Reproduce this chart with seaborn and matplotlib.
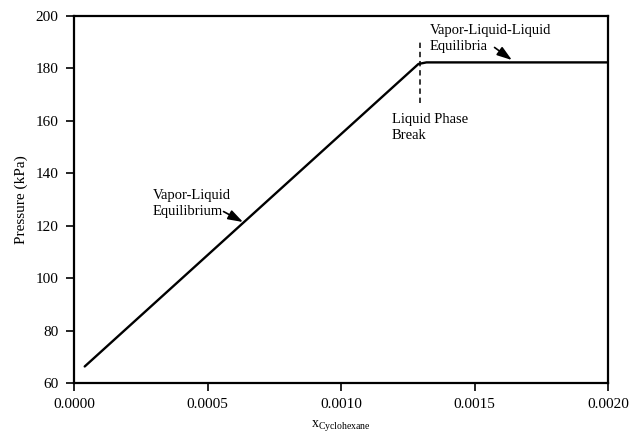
import matplotlib
matplotlib.use("Agg")
import matplotlib.pyplot as plt
import seaborn as sns
import pandas as pd

# Pressure vs. cyclohexane mole fraction
x_cyclohexane = [0.00004, 0.00129, 0.00132, 0.0020]
pressure_kpa = [66.3, 181.7, 182.3, 182.3]

# Liquid phase break marker
break_x = 0.001296
break_y = [166.8, 190.1]

x_ticks = [0.0000, 0.0005, 0.0010, 0.0015, 0.0020]
x_tick_labels = ["0.0000", "0.0005", "0.0010", "0.0015", "0.0020"]
y_ticks = [60, 80, 100, 120, 140, 160, 180, 200]

sns.set_theme(style="ticks")
plt.rcParams["font.family"] = ["Liberation Serif", "DejaVu Serif"]
plt.rcParams["mathtext.fontset"] = "custom"
plt.rcParams["mathtext.rm"] = "Liberation Serif"
plt.rcParams["text.color"] = "black"
plt.rcParams["axes.labelcolor"] = "black"

df = pd.DataFrame({"x": x_cyclohexane, "p": pressure_kpa})

fig = plt.figure(figsize=(6.3, 4.37), dpi=100)
ax = fig.add_axes([0.1175, 0.1236, 0.8476, 0.8398])

sns.lineplot(data=df, x="x", y="p", ax=ax, color="black", linewidth=1.7)
ax.plot([break_x, break_x], break_y, color="black", linewidth=1.1,
        linestyle=(0, (3.5, 2.5)))

ax.set_xlim(0, 0.002)
ax.set_ylim(60, 200)
ax.set_xticks(x_ticks)
ax.set_xticklabels(x_tick_labels)
ax.set_yticks(y_ticks)
ax.tick_params(direction="out", length=6, width=1.2, color="black",
               labelsize=11, labelcolor="black", pad=5)
for side in ["left", "right", "top", "bottom"]:
    ax.spines[side].set_visible(True)
    ax.spines[side].set_color("black")
    ax.spines[side].set_linewidth(1.6)

ax.set_xlabel(r"$\mathregular{x_{Cyclohexane}}$", fontsize=10)
ax.xaxis.set_label_coords(0.5, -0.095)
ax.set_ylabel("Pressure (kPa)", fontsize=11, labelpad=6)

arrow_style = dict(arrowstyle="-|>,head_length=0.75,head_width=0.25",
                   color="black", lw=1.2, shrinkA=0, shrinkB=0)

# Annotation texts
ax.text(0.000295, 128.5, "Vapor-Liquid\nEquilibrium", fontsize=10.5,
        ha="left", va="center", linespacing=1.25)
ax.text(0.001333, 191.4, "Vapor-Liquid-Liquid\nEquilibria", fontsize=10.5,
        ha="left", va="center", linespacing=1.25)
ax.text(0.00119, 157.5, "Liquid Phase\nBreak", fontsize=10.5,
        ha="left", va="center", linespacing=1.25)

# Pointer arrows
ax.annotate("", xy=(0.000633, 121.4), xytext=(0.000560, 125.4),
            arrowprops=arrow_style)
ax.annotate("", xy=(0.00164, 183.2), xytext=(0.001575, 188.0),
            arrowprops=arrow_style)

fig.savefig("out.png", dpi=100, facecolor="white")
